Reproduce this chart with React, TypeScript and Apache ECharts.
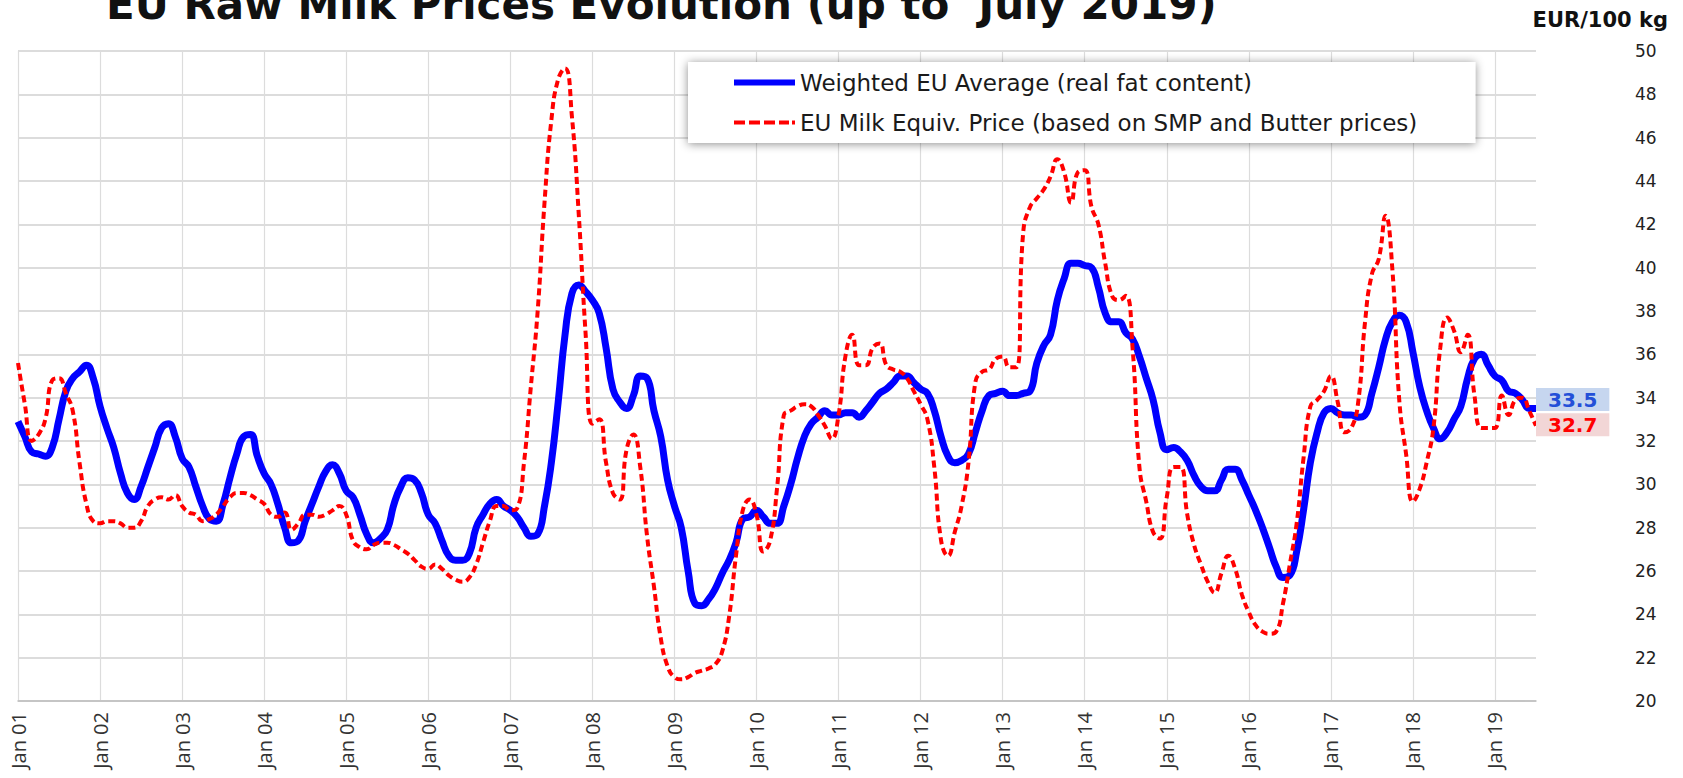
import React, { useEffect, useRef } from "react";
import * as echarts from "echarts";

const years = ["01","02","03","04","05","06","07","08","09","10","11","12","13","14","15","16","17","18","19"];
const monthNames = ["Jan","Feb","Mar","Apr","May","Jun","Jul","Aug","Sep","Oct","Nov","Dec"];
const lastMonthCount = 7; // data up to July 2019
const categories: string[] = [];
years.forEach((y, yi) => {
  const n = yi === years.length - 1 ? lastMonthCount : 12;
  for (let m = 0; m < n; m++) categories.push(`${monthNames[m]} ${y}`);
});

const yTicks = { min: 20, max: 50, interval: 2 };

// Weighted EU Average (real fat content), EUR/100 kg, monthly
const weightedAvg = [
  32.9, 32.2, 31.5, 31.4, 31.3, 31.7, 33.0, 34.3, 34.9, 35.2, 35.5, 34.9,
  33.6, 32.6, 31.7, 30.5, 29.6, 29.3, 29.9, 30.8, 31.7, 32.6, 32.8, 32.2,
  31.2, 30.8, 29.9, 29.0, 28.4, 28.3, 29.1, 30.3, 31.4, 32.2, 32.3, 31.3,
  30.5, 30.0, 29.1, 28.0, 27.3, 27.4, 28.3, 29.1, 29.9, 30.6, 30.9, 30.5,
  29.7, 29.4, 28.6, 27.7, 27.3, 27.5, 27.9, 29.1, 29.9, 30.3, 30.2, 29.6,
  28.6, 28.2, 27.4, 26.7, 26.5, 26.5, 26.8, 28.0, 28.6, 29.1, 29.3, 29.0,
  28.8, 28.5, 28.0, 27.6, 27.7, 29.0, 31.0, 33.8, 36.9, 38.8, 39.2, 38.9,
  38.5, 37.9, 36.3, 34.4, 33.8, 33.5, 34.1, 35.0, 34.9, 33.4, 32.2, 30.2,
  29.0, 28.0, 26.0, 24.5, 24.4, 24.7, 25.2, 25.9, 26.5, 27.3, 28.4, 28.5,
  28.8, 28.5, 28.2, 28.2, 29.0, 30.0, 31.2, 32.2, 32.8, 33.1, 33.4, 33.2,
  33.2, 33.3, 33.3, 33.1, 33.4, 33.8, 34.2, 34.4, 34.7, 35.0, 35.0, 34.7,
  34.4, 34.2, 33.4, 32.2, 31.3, 31.0, 31.1, 31.4, 32.4, 33.4, 34.1, 34.2,
  34.3, 34.1, 34.1, 34.2, 34.3, 35.6, 36.4, 36.9, 38.5, 39.5, 40.2, 40.2,
  40.1, 40.0, 39.1, 37.9, 37.5, 37.5, 37.0, 36.7, 35.9, 34.9, 33.9, 32.4,
  31.6, 31.7, 31.5, 31.1, 30.4, 29.9, 29.7, 29.7, 30.2, 30.7, 30.7, 30.2,
  29.5, 28.8, 28.0, 27.1, 26.2, 25.7, 25.8, 26.9, 28.8, 31.0, 32.4, 33.3,
  33.5, 33.3, 33.2, 33.2, 33.1, 33.2, 34.2, 35.4, 36.7, 37.5, 37.8, 37.5,
  36.1, 34.5, 33.4, 32.6, 32.1, 32.4, 33.0, 33.6, 34.9, 35.8, 36.0, 35.5,
  35.0, 34.8, 34.3, 34.2, 33.9, 33.5, 33.5,
];

// EU Milk Equiv. Price (based on SMP and Butter prices), EUR/100 kg, monthly
const milkEquiv = [
  35.6, 33.7, 32.0, 32.3, 33.0, 34.8, 34.9, 34.2, 33.4, 31.0, 29.1, 28.3,
  28.2, 28.3, 28.3, 28.2, 28.0, 28.0, 28.3, 29.0, 29.3, 29.4, 29.3, 29.5,
  29.0, 28.7, 28.6, 28.3, 28.4, 28.6, 29.0, 29.4, 29.6, 29.6, 29.5, 29.3,
  29.1, 28.6, 28.5, 28.7, 27.9, 28.2, 28.6, 28.6, 28.5, 28.6, 28.8, 29.0,
  28.6, 27.4, 27.1, 27.0, 27.2, 27.3, 27.3, 27.2, 27.0, 26.8, 26.5, 26.2,
  26.1, 26.3, 26.1, 25.8, 25.6, 25.5, 25.7, 26.3, 27.3, 28.3, 29.0, 29.0,
  28.8, 28.9, 31.0, 34.5, 38.0, 43.0, 46.8, 48.7, 49.2, 47.0, 42.5, 37.0,
  32.8, 33.0, 31.0, 29.6, 29.3, 31.6, 32.3, 30.8, 27.6, 25.3, 22.9, 21.6,
  21.1, 21.0, 21.1, 21.3, 21.4, 21.5, 21.7, 22.3, 23.9, 26.7, 28.8, 29.3,
  28.6, 26.9, 27.4, 29.8, 33.2, 33.4, 33.6, 33.7, 33.6, 33.2, 32.7, 32.1,
  33.2, 35.9, 36.9, 35.5, 35.5, 36.3, 36.5, 35.5, 35.3, 35.2, 34.9, 34.3,
  33.7, 33.0, 30.8, 27.4, 26.7, 27.8, 29.0, 31.0, 34.7, 35.2, 35.3, 35.8,
  35.9, 35.4, 35.4, 41.6, 42.8, 43.2, 43.6, 44.2, 45.0, 44.4, 43.0, 44.4,
  44.5, 42.8, 42.0, 40.2, 38.7, 38.5, 38.7, 36.3, 30.8, 29.2, 27.8, 27.5,
  29.4, 30.8, 30.8, 28.6, 27.2, 26.3, 25.5, 25.0, 25.9, 26.7, 26.1, 24.9,
  24.1, 23.5, 23.2, 23.1, 23.2, 24.5, 26.3, 28.2, 31.2, 33.6, 33.9, 34.3,
  35.0, 33.8, 32.4, 32.6, 33.8, 37.5, 39.7, 40.4, 42.4, 39.9, 33.9, 31.4,
  29.2, 29.8, 31.0, 32.6, 36.3, 37.7, 37.1, 36.1, 36.9, 34.1, 32.6, 32.6,
  32.6, 34.1, 33.2, 33.9, 34.0, 33.4, 32.7,
];

const seriesNames = [
  "Weighted EU Average (real fat content)",
  "EU Milk Equiv. Price (based on SMP and Butter prices)",
];
const titleText = "EU Raw Milk Prices Evolution (up to  July 2019)";
const unitText = "EUR/100 kg";

const dashedIcon =
  "path://M0,0h11v4h-11z M15,0h11v4h-11z M30,0h11v4h-11z M45,0h10v4h-10z M58,0h3v4h-3z";

export default function App() {
  const ref = useRef<HTMLDivElement>(null);
  useEffect(() => {
    if (!ref.current) return;
    const chart = echarts.init(ref.current, undefined, { renderer: "svg" });
    const yearly = (i: number) => i % 12 === 0;
    chart.setOption({
      animation: false,
      backgroundColor: "#ffffff",
      grid: { left: 18, right: 147, top: 51, bottom: 77, containLabel: false },
      graphic: [
        {
          type: "text",
          x: 106,
          y: 4,
          style: {
            text: titleText,
            font: "bold 42px 'DejaVu Sans'",
            fill: "#111111",
            verticalAlign: "middle",
          },
        },
        {
          type: "text",
          x: 1668,
          y: 20,
          style: {
            text: unitText,
            font: "bold 21px 'DejaVu Sans'",
            fill: "#111111",
            align: "right",
            verticalAlign: "middle",
          },
        },
      ],
      legend: {
        left: 688,
        top: 62,
        orient: "vertical",
        backgroundColor: "#ffffff",
        shadowBlur: 10,
        shadowColor: "rgba(0,0,0,0.45)",
        shadowOffsetX: 0,
        shadowOffsetY: 1,
        padding: [9, 58, 9, 46],
        itemGap: 17,
        itemWidth: 61,
        itemHeight: 6,
        symbolKeepAspect: true,
        textStyle: { fontFamily: "DejaVu Sans", fontSize: 23, color: "#1a1a1a" },
        data: [
          { name: seriesNames[0], icon: "rect", itemStyle: { color: "#0000ff" } },
          { name: seriesNames[1], icon: dashedIcon, itemStyle: { color: "#ff0000" } },
        ],
      },
      xAxis: {
        type: "category",
        data: categories,
        boundaryGap: false,
        axisLine: { show: true, lineStyle: { color: "#bdbdbd", width: 1.5 } },
        axisTick: { show: false },
        axisLabel: {
          interval: (i: number) => yearly(i),
          rotate: 90,
          margin: 11,
          fontFamily: "Open Sans",
          fontSize: 20,
          color: "#333333",
        },
        splitLine: {
          show: true,
          interval: (i: number) => yearly(i),
          lineStyle: { color: "#dcdcdc", width: 1.2 },
        },
      },
      yAxis: {
        type: "value",
        position: "right",
        min: yTicks.min,
        max: yTicks.max,
        interval: yTicks.interval,
        axisLine: { show: false },
        axisTick: { show: false },
        axisLabel: {
          margin: 99,
          fontFamily: "DejaVu Sans",
          fontSize: 17,
          color: "#222222",
        },
        splitLine: { show: true, lineStyle: { color: "#d0d0d0", width: 1.5 } },
      },
      series: [
        {
          name: seriesNames[0],
          type: "line",
          data: weightedAvg,
          smooth: 0.5,
          symbol: "none",
          lineStyle: { color: "#0000ff", width: 7 },
          itemStyle: { color: "#0000ff" },
          endLabel: {
            show: true,
            formatter: () => weightedAvg[weightedAvg.length - 1].toFixed(1),
            distance: 0,
            offset: [0, -9],
            color: "#2450d8",
            backgroundColor: "#c6d6ef",
            padding: [2, 12, 1, 12],
            fontFamily: "DejaVu Sans",
            fontWeight: "bold",
            fontSize: 20,
          },
          z: 2,
        },
        {
          name: seriesNames[1],
          type: "line",
          data: milkEquiv,
          smooth: 0.5,
          symbol: "none",
          lineStyle: { color: "#ff0000", width: 4, type: [7, 4] },
          itemStyle: { color: "#ff0000" },
          endLabel: {
            show: true,
            formatter: () => milkEquiv[milkEquiv.length - 1].toFixed(1),
            distance: 0,
            offset: [0, -1],
            color: "#ff0000",
            backgroundColor: "#f2d6d6",
            padding: [2, 12, 1, 12],
            fontFamily: "DejaVu Sans",
            fontWeight: "bold",
            fontSize: 20,
          },
          z: 3,
        },
      ],
    });
    return () => chart.dispose();
  }, []);
  return (
    <div
      ref={ref}
      style={{ position: "fixed", left: 0, top: 0, width: 1683, height: 778 }}
    />
  );
}
